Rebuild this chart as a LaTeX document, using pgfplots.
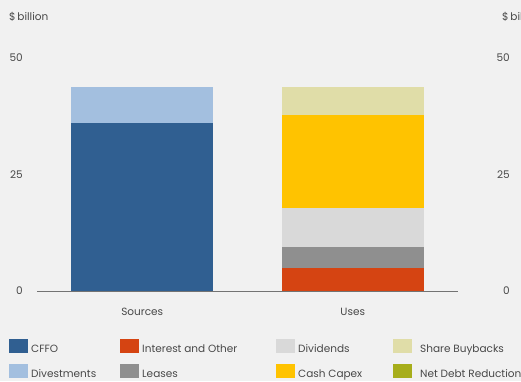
\documentclass[border=0pt]{standalone}
\usepackage{pgfplots}
\pgfplotsset{compat=1.18}
\usepackage{fontspec}
\setmainfont{Poppins}
\definecolor{bg}{HTML}{F1F1F1}
\definecolor{txt}{HTML}{484848}
\definecolor{cffo}{HTML}{305F91}
\definecolor{divest}{HTML}{A3BFDF}
\definecolor{interest}{HTML}{D54412}
\definecolor{leases}{HTML}{8F8F8F}
\definecolor{divid}{HTML}{D9D9D9}
\definecolor{capex}{HTML}{FFC300}
\definecolor{buyback}{HTML}{E0DDA8}
\definecolor{netdebt}{HTML}{A7AE1B}
\begin{document}
\begin{tikzpicture}[font=\fontsize{10.5}{12}\selectfont]
\useasboundingbox (0pt,0pt) rectangle (521pt,381pt);
\clip (0pt,0pt) rectangle (521pt,381pt);
\fill[bg] (0pt,0pt) rectangle (521pt,381pt);
\node[anchor=base west, inner sep=0pt, text=txt] at (9pt,360pt) {\$\,billion};
\node[anchor=base west, inner sep=0pt, text=txt] at (502pt,360pt) {\$\,billion};
\begin{axis}[
  at={(37pt,90pt)}, anchor=south west,
  scale only axis, width=421pt, height=233pt,
  ybar stacked, bar width=142pt,
  xmin=-0.5, xmax=1.5, ymin=0, ymax=50,
  xtick={0,1}, xticklabels={Sources,Uses},
  ytick={0,25,50},
  axis x line*=bottom, axis y line*=left,
  x axis line style={draw=black!55, line width=1pt, -},
  y axis line style={draw=none},
  tick style={draw=none},
  /pgf/number format/assume math mode=true,
  xticklabel style={inner sep=0pt, yshift=-16.5pt, text=txt},
  yticklabel style={inner sep=0pt, anchor=east, xshift=-14pt, text=txt},
  legend columns=2, transpose legend,
  legend style={at={(-0.0665,-0.206)}, anchor=north west, draw=none, fill=none,
    inner sep=0pt, row sep=10pt, column sep=0pt,
    nodes={inner sep=0pt, text height=8pt, text depth=2pt, anchor=base west, text=txt}},
  legend image code/.code={\fill[#1] (0pt,-1pt) rectangle (19pt,13pt); \path (22pt,0pt);},
]
\addplot[fill=cffo, draw=none] coordinates {(0,36.0) (1,0)};
\addlegendentry{\makebox[89pt][l]{CFFO}}
\addplot[fill=divest, draw=none] coordinates {(0,7.7) (1,0)};
\addlegendentry{\makebox[89pt][l]{Divestments}}
\addplot[fill=interest, draw=none] coordinates {(0,0) (1,4.9)};
\addlegendentry{\makebox[134pt][l]{Interest and Other}}
\addplot[fill=leases, draw=none] coordinates {(0,0) (1,4.6)};
\addlegendentry{\makebox[134pt][l]{Leases}}
\addplot[fill=divid, draw=none] coordinates {(0,0) (1,8.3)};
\addlegendentry{\makebox[95pt][l]{Dividends}}
\addplot[fill=capex, draw=none] coordinates {(0,0) (1,20.0)};
\addlegendentry{\makebox[95pt][l]{Cash Capex}}
\addplot[fill=buyback, draw=none] coordinates {(0,0) (1,5.9)};
\addlegendentry{\hspace{5pt}Share Buybacks}
\addplot[fill=netdebt, draw=none] coordinates {(0,0) (1,0)};
\addlegendentry{\hspace{5pt}Net Debt Reduction}
\end{axis}
\begin{axis}[
  at={(37pt,90pt)}, anchor=south west,
  scale only axis, width=421pt, height=233pt,
  xmin=-0.5, xmax=1.5, ymin=0, ymax=50,
  axis x line=none, axis y line*=right,
  y axis line style={draw=none},
  ytick={0,25,50}, tick style={draw=none},
  /pgf/number format/assume math mode=true,
  yticklabel style={inner sep=0pt, anchor=east, xshift=52pt, text=txt},
]
\addplot[draw=none] coordinates {(0,0)};
\end{axis}
\end{tikzpicture}
\end{document}
